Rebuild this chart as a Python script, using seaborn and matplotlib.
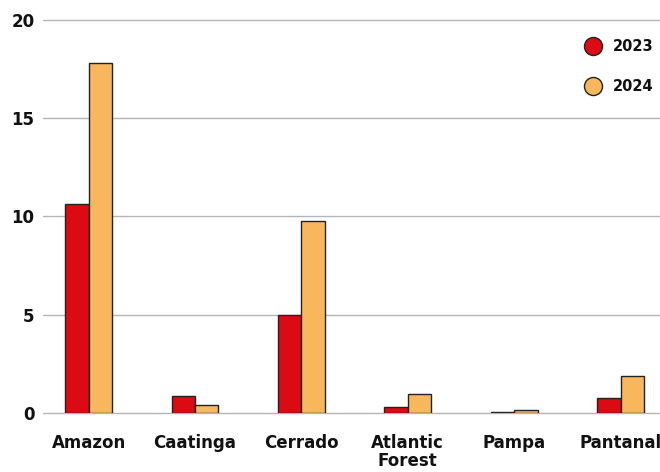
import numpy as np
import pandas as pd
import seaborn as sns
import matplotlib.pyplot as plt
from matplotlib.lines import Line2D

biomes = ['Amazon', 'Caatinga', 'Cerrado', 'Atlantic\nForest', 'Pampa', 'Pantanal']
years = ['2023', '2024']
vals_2023 = [10.65, 0.87, 5.0, 0.33, 0.05, 0.77]
vals_2024 = [17.8, 0.42, 9.77, 0.99, 0.15, 1.9]
colors = ['#db0a13', '#f8b65d']

df = pd.DataFrame({
    'biome': biomes * 2,
    'year': ['2023'] * 6 + ['2024'] * 6,
    'value': vals_2023 + vals_2024,
})

sns.set_style('white')
plt.rcParams['font.family'] = ['DejaVu Sans']
plt.rcParams['text.color'] = '#111111'

fig = plt.figure(figsize=(6.6, 4.72), dpi=100)
ax = fig.add_axes([0.065, 0.125, 0.935, 0.833])

sns.barplot(data=df, x='biome', y='value', hue='year', palette=colors,
            saturation=1, width=0.44, edgecolor='#222222', linewidth=1,
            ax=ax, legend=False, zorder=3)

ax.set_ylim(0, 20)
ax.set_xlim(-0.43, 5.37)
ax.set_yticks([0, 5, 10, 15, 20])
ax.yaxis.grid(True, color='#b5b5b5', linewidth=1)
for gl in ax.get_ygridlines():
    gl.set_clip_on(False)
ax.set_axisbelow(True)
for s in ax.spines.values():
    s.set_visible(False)
ax.set_xlabel('')
ax.set_ylabel('')
ax.tick_params(axis='both', length=0, labelsize=12, labelcolor='#111111')
ax.tick_params(axis='x', pad=15)
ax.tick_params(axis='y', pad=6)
for lbl in ax.get_xticklabels() + ax.get_yticklabels():
    lbl.set_fontweight('bold')
for lbl in ax.get_xticklabels():
    lbl.set_linespacing(1.0)

handles = [Line2D([], [], marker='o', linestyle='', markersize=13,
                  markerfacecolor=c, markeredgecolor='#222222', markeredgewidth=1)
           for c in colors]
leg = ax.legend(handles, years, loc='upper right', bbox_to_anchor=(1.01, 0.985),
                frameon=False, handletextpad=0.3, labelspacing=1.7,
                prop={'weight': 'bold', 'size': 10.5})

fig.savefig('out.png', dpi=100)
